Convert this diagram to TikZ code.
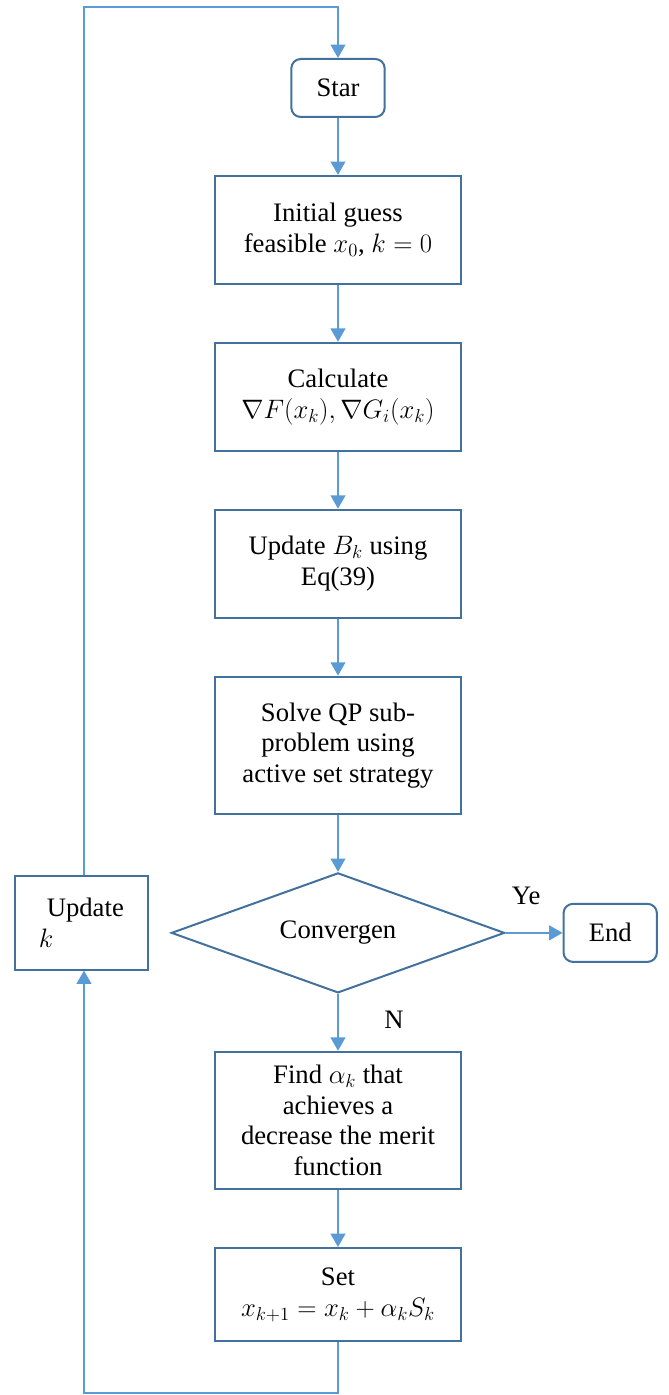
\RequirePackage{fix-cm}
\documentclass[tikz,border=0pt]{standalone}
\usepackage{fontspec}
\setmainfont{Liberation Serif}
\newfontfamily\chartfont{Liberation Serif}
\usetikzlibrary{positioning,arrows.meta,shapes.geometric}
\definecolor{boxblue}{HTML}{41719C}
\definecolor{lineblue}{HTML}{5B9BD5}
\tikzset{
  chart/.style={node distance=1.5cm,
    font=\chartfont\fontsize{20}{23}\selectfont},
  flow/.style={draw=lineblue,line width=1.5pt,
    -{Triangle[length=10pt,width=11pt]}},
  process/.style={rectangle,draw=boxblue,line width=1.5pt,
    minimum width=184.5pt,align=center},
  terminal/.style={rectangle,rounded corners=7pt,draw=boxblue,line width=1.5pt,
    minimum width=70pt,minimum height=43.5pt},
  decision/.style={diamond,draw=boxblue,line width=1.5pt,aspect=2.8,
    minimum width=250pt,minimum height=90pt},
  flowtext/.style={inner sep=1pt}
}
\begin{document}
\begin{tikzpicture}[chart]
      \node[terminal] (star) at (0,0) {Star};
      \useasboundingbox (-253.5pt,66pt) rectangle (247.5pt,-980.25pt);
      \node[process,minimum height=81pt] (init) [below=of star] {Initial guess\\feasible $x_0$, $k=0$};
      \node[process,minimum height=81pt] (grad) [below=of init] {Calculate\\$\nabla F(x_k), \nabla G_i(x_k)$};
      \node[process,minimum height=81pt] (hess) [below=of grad] {Update $B_k$ using\\Eq(39)};
      \node[process,minimum height=103pt] (qp) [below=of hess] {Solve QP sub-\\problem using\\active set strategy};
      \node[decision] (conv) [below=of qp] {Convergen};
      \node[terminal] (end) [right=of conv] {End};
      \node[rectangle,draw=boxblue,line width=1.5pt,minimum width=100pt,minimum height=70pt,
        align=left] (updk) [left=16pt of conv,yshift=7.5pt] {\hspace*{6pt}Update\\$k$};
      \node[process,minimum height=103pt] (step) [below=of conv] {Find $\alpha_k$ that\\achieves a\\decrease the merit\\function};
      \node[process,minimum height=70pt] (set) [below=of step] {Set\\$x_{k+1}=x_k+\alpha_k S_k$};
      \coordinate (top) at ([yshift=38pt]star.north);
      \coordinate (bot) at ([yshift=-38pt]set.south);
      % main column
      \draw[flow] (star) -- (init);
      \draw[flow] (init) -- (grad);
      \draw[flow] (grad) -- (hess);
      \draw[flow] (hess) -- (qp);
      \draw[flow] (qp) -- (conv);
      \draw[flow] (conv) -- node[flowtext,pos=0.36,yshift=28pt] {Ye} (end);
      \draw[flow] (conv) -- node[flowtext,pos=0.45,xshift=42pt] {N} (step);
      \draw[flow] (step) -- (set);
      % loop back
      \draw[flow] (set.south) -- (bot) -| ([xshift=2pt]updk.south);
      \draw[flow] ([xshift=2pt]updk.north) |- (top) -- (star.north);
    \end{tikzpicture}
\end{document}
